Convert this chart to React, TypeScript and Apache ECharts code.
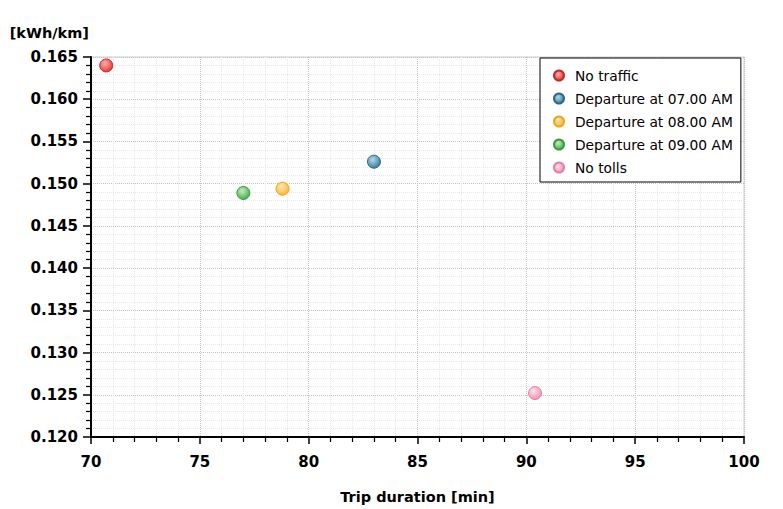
import React, { useEffect, useRef } from "react";
import * as echarts from "echarts";

const seriesNames = [
  "No traffic",
  "Departure at 07.00 AM",
  "Departure at 08.00 AM",
  "Departure at 09.00 AM",
  "No tolls",
];
const tripDuration = [70.7, 83.0, 78.8, 77.0, 90.4];
const energyUse = [0.164, 0.1526, 0.1494, 0.1489, 0.1252];
const baseColors = ["#e53935", "#3a7d9f", "#ffb530", "#4caf50", "#f48fb1"];
const lightColors = ["#ffb0b0", "#b4dbe8", "#ffe9b8", "#c2eec2", "#ffe6f0"];
const borderColors = ["#c62828", "#2d6a88", "#f2a31c", "#3a9a3e", "#e57fa3"];

const FONT = "DejaVu Sans";

export default function App() {
  const ref = useRef<HTMLDivElement>(null);
  useEffect(() => {
    if (!ref.current) return;
    const chart = echarts.init(ref.current, null, { renderer: "svg" });
    const series = seriesNames.map((name, i) => ({
      name,
      type: "scatter",
      symbol: "circle",
      symbolSize: 13,
      data: [[tripDuration[i], energyUse[i]]],
      itemStyle: {
        color: new echarts.graphic.RadialGradient(0.4, 0.35, 0.65, [
          { offset: 0, color: lightColors[i] },
          { offset: 1, color: baseColors[i] },
        ]),
        borderColor: borderColors[i],
        borderWidth: 1,
        opacity: 1,
      },
    }));
    chart.setOption({
      animation: false,
      backgroundColor: "#ffffff",
      grid: {
        left: 91,
        right: 39,
        top: 57,
        bottom: 68,
        show: true,
        borderColor: "#cccccc",
        borderWidth: 1,
        backgroundColor: "#ffffff",
      },
      legend: {
        orient: "vertical",
        left: 540,
        top: 58,
        data: seriesNames,
        icon: "circle",
        itemWidth: 22,
        itemHeight: 10,
        itemGap: 8,
        padding: [10, 8, 7, 13],
        borderColor: "#000000",
        borderWidth: 1,
        backgroundColor: "#ffffff",
        textStyle: {
          fontFamily: FONT,
          fontSize: 13.8,
          color: "#000000",
          lineHeight: 15,
        },
      },
      xAxis: {
        type: "value",
        min: 70,
        max: 100,
        interval: 5,
        name: "Trip duration [min]",
        nameLocation: "middle",
        nameGap: 52,
        nameTextStyle: {
          fontFamily: FONT,
          fontWeight: "bold",
          fontSize: 14.5,
          color: "#000",
        },
        axisLine: { show: true, onZero: false, lineStyle: { color: "#000", width: 2 } },
        axisTick: { show: true, inside: false, length: 7, lineStyle: { color: "#000", width: 1.5 } },
        minorTick: { show: true, splitNumber: 5, length: 5, lineStyle: { color: "#000", width: 1.2 } },
        axisLabel: {
          margin: 17,
          fontFamily: FONT,
          fontWeight: "bold",
          fontSize: 15,
          color: "#000",
        },
        splitLine: { show: true, lineStyle: { color: "#c4c4c4", type: "dotted", width: 1 } },
        minorSplitLine: { show: true, lineStyle: { color: "#e8e8e8", type: "dotted", width: 1 } },
      },
      yAxis: {
        type: "value",
        min: 0.12,
        max: 0.165,
        interval: 0.005,
        name: "[kWh/km]",
        nameLocation: "end",
        nameGap: 24,
        nameTextStyle: {
          fontFamily: FONT,
          fontWeight: "bold",
          fontSize: 14.5,
          color: "#000",
          align: "right",
          verticalAlign: "middle",
          padding: [0, 2, 0, 0],
        },
        axisLine: { show: true, onZero: false, lineStyle: { color: "#000", width: 2 } },
        axisTick: { show: true, inside: false, length: 8, lineStyle: { color: "#000", width: 1.5 } },
        minorTick: { show: true, splitNumber: 5, length: 5, lineStyle: { color: "#000", width: 1.2 } },
        axisLabel: {
          margin: 13,
          fontFamily: FONT,
          fontWeight: "bold",
          fontSize: 15,
          color: "#000",
          formatter: (v: number) => v.toFixed(3),
        },
        splitLine: { show: true, lineStyle: { color: "#c4c4c4", type: "dotted", width: 1 } },
        minorSplitLine: { show: true, lineStyle: { color: "#e8e8e8", type: "dotted", width: 1 } },
      },
      series,
    });
    return () => chart.dispose();
  }, []);
  return (
    <div
      ref={ref}
      style={{ position: "fixed", left: 0, top: 0, width: 783, height: 509 }}
    />
  );
}
